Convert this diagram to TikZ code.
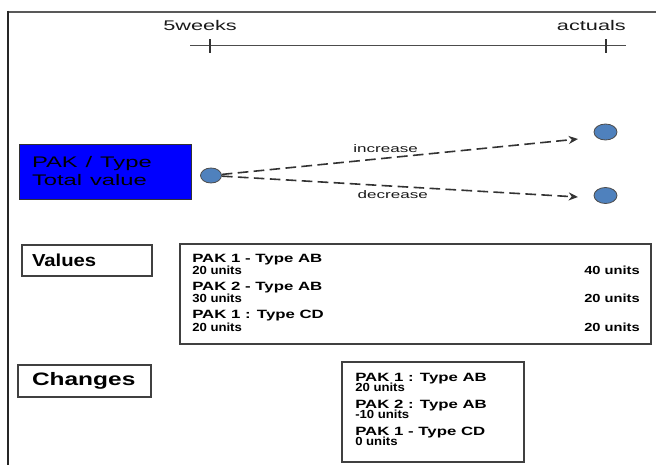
\documentclass[tikz,border=0pt]{standalone}
\usepackage{fontspec}
\setmainfont{Liberation Sans}
\usepackage{graphicx}
\usepackage{xcolor}
\usetikzlibrary{shapes.geometric, arrows.meta, positioning, calc}
\definecolor{pakblue}{RGB}{0,0,255}
\definecolor{dotblue}{RGB}{79,129,189}
\newcommand{\strx}[2][1.5]{\scalebox{#1}[1]{#2}}
\tikzset{
  tbox/.style    = {rectangle, draw=black!80, fill=pakblue, line width=0.6pt,
                    minimum height=41.25pt, inner xsep=9.75pt, text width=109.5pt,
                    align=left, font=\fontsize{11.5}{13.5}\selectfont},
  head/.style    = {rectangle, draw=black!75, line width=1.3pt,
                    minimum height=23.25pt, inner xsep=7.5pt, text width=82.5pt,
                    align=left, font=\bfseries\fontsize{13}{15}\selectfont},
  databox/.style = {rectangle, draw=black!75, line width=1.1pt, minimum height=75pt},
  dot/.style     = {ellipse, draw=black!70, fill=dotblue, line width=0.6pt,
                    inner sep=0pt, minimum width=17.25pt, minimum height=12pt},
  item/.style    = {inner sep=0pt, font=\bfseries\fontsize{9}{10}\selectfont},
  unit/.style    = {inner sep=0pt, font=\bfseries\fontsize{8.8}{9}\selectfont},
  trend/.style   = {-{Stealth[length=7pt,width=6pt]}, draw=black!80, line width=1.2pt,
                    dash pattern=on 8pt off 4pt},
  tlabel/.style  = {font=\fontsize{8.25}{9}\selectfont, text=black!90, inner sep=1pt},
}

\begin{document}
\begin{tikzpicture}[x=0.75pt, y=-0.75pt]
  \useasboundingbox (0,0) rectangle (656,465);

  % page edges
  \draw[black!65, line width=1.5pt] (7,11.5) -- (656,11.5);
  \draw[black!85, line width=2.2pt] (8,10.5) -- (8,465);

  % timeline
  \coordinate (tl) at (190,45.5);
  \coordinate (tr) at (626,45.5);
  \draw[black!70, line width=1.1pt] (tl) -- (tr);
  \foreach \x in {210,606}
    \draw[black!80, line width=1.4pt] (\x,39) -- (\x,53);
  \node[anchor=base west, inner sep=0pt, text=black!90,
        font=\fontsize{10.5}{12}\selectfont] (wk) at (163,30) {\strx[1.55]{5weeks}};
  \node[anchor=base east, inner sep=0pt, text=black!90,
        font=\fontsize{10.5}{12}\selectfont] (act) at (626,30) {\strx[1.55]{actuals}};

  % PAK / Type box and trend dots
  \node[tbox] (pak) at (105,171.5) {\strx[1.55]{PAK / Type}\\\strx[1.55]{Total value}};
  \node[dot, minimum width=15.75pt, minimum height=11.25pt] (start) at (211,175.5) {};
  \node[dot] (up) at (605.5,132) {};
  \node[dot] (dn) at (605.5,195.5) {};
  \coordinate (upend) at (578,139);
  \coordinate (dnend) at (578,197);
  \draw[trend] (start) -- (upend)
    node[tlabel, pos=0.46, above=2.5pt] (inc) {\strx[1.55]{increase}};
  \draw[trend] (start) -- (dnend)
    node[tlabel, pos=0.48, below=2pt] (dec) {\strx[1.55]{decrease}};

  % Values
  \node[head] (values) at (87,260.5) {\strx[1.17]{Values}};
  \node[databox, minimum width=353.25pt] (vals) at (415.5,294) {};
  \foreach \y/\txt [count=\i] in {262/{PAK 1 - Type AB},
                                  290/{PAK 2 - Type AB},
                                  318/{PAK 1 : Type CD}}{
    \node[item, anchor=base west] (vh\i) at (192,\y) {\strx[1.4]{\txt}};
  }
  \foreach \y/\l/\r [count=\i] in {274/20/40, 302/30/20, 331/20/20}{
    \node[unit, anchor=base west] (vl\i) at (192,\y) {\strx[1.12]{\l{} units}};
    \node[unit, anchor=base east] (vr\i) at (640,\y) {\strx[1.25]{\r{} units}};
  }

  % Changes
  \node[head, minimum height=24pt, inner xsep=10.5pt, text width=78.75pt,
        font=\bfseries\fontsize{13.5}{15}\selectfont] (changes) at (84.5,381) {\strx[1.36]{Changes}};
  \node[databox, minimum width=136.5pt] (chg) at (433,412) {};
  \foreach \y/\txt/\u [count=\i] in {381/{PAK 1 : Type AB}/20,
                                     408/{PAK 2 : Type AB}/-10,
                                     435/{PAK 1 - Type CD}/0}{
    \node[item, anchor=base west] (ch\i) at (355,\y) {\strx[1.4]{\txt}};
    \node[unit, anchor=base west] (cu\i) at (355,\y+10.5) {\strx[1.12]{\u{} units}};
  }
\end{tikzpicture}
\end{document}
